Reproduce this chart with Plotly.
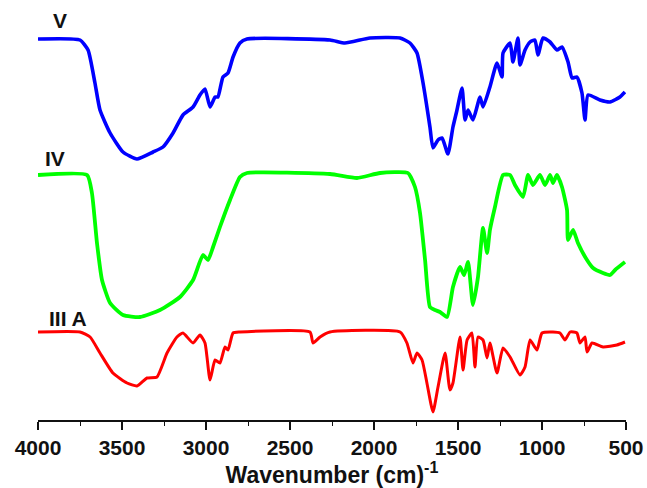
import plotly.graph_objects as go

# Spectrum V (blue)
wn_v = [4000,3750,3702,3661,3631,3571,3494,3411,3315,3256,
        3196,3137,3077,3036,3006,2976,2946,2929,2899,2869,
        2839,2798,2756,2262,2173,2024,1845,1786,1744,1708,
        1667,1649,1619,1595,1560,1530,1506,1476,1458,1440,
        1411,1369,1351,1310,1268,1238,1232,1190,1173,1143,
        1131,1101,1071,1042,1024,994,952,911,881,845,
        821,792,762,744,726,655,595,536,506]
t_v = [381,380,370,337,310,287,268,261,268,273,
       287,305,313,325,331,313,323,323,343,347,
       363,377,381,380,377,382,382,377,367,337,
       293,272,280,282,266,293,310,332,300,310,
       300,323,313,333,357,343,367,377,358,382,
       355,370,378,380,365,382,378,370,373,358,
       342,343,327,300,325,320,318,323,328]

# Spectrum IV (green)
wn_iv = [4000,3708,3679,3649,3619,3571,3494,3393,3274,3155,
         3077,3018,2988,2958,2917,2857,2798,2756,2262,2101,
         1964,1798,1756,1726,1696,1667,1637,1607,1565,1530,
         1488,1464,1440,1411,1381,1351,1327,1310,1280,1232,
         1190,1161,1113,1083,1054,1012,982,952,935,911,
         881,851,845,815,786,732,696,637,595,565,
         506]
t_iv = [245,245,227,177,140,117,105,103,110,123,
        140,165,160,173,193,220,243,247,246,242,
        247,247,233,207,160,113,110,108,103,133,
        153,145,158,115,143,192,167,190,213,245,
        245,235,223,245,235,245,235,245,237,245,
        233,210,180,190,177,160,152,147,145,150,
        158]

# Spectrum III A (red)
wn_iii = [4000,3750,3690,3631,3554,3470,3411,3351,3292,3232,
          3173,3137,3077,3036,3006,2976,2946,2917,2887,2869,
          2839,2798,2381,2363,2321,2262,1845,1804,1768,1744,
          1714,1685,1649,1619,1577,1548,1530,1488,1470,1446,
          1417,1399,1381,1351,1327,1310,1268,1232,1190,1131,
          1101,1071,1030,1000,935,893,863,833,792,774,
          744,732,702,637,554,506]
t_iii = [88,88,83,67,47,37,34,42,43,67,
         83,87,77,85,77,40,60,57,73,70,
         87,88,88,77,83,88,88,77,57,67,
         60,37,8,33,67,30,37,83,50,80,
         87,53,83,80,62,77,47,72,63,45,
         53,80,70,87,88,87,80,88,87,77,
         83,68,77,73,75,78]

labels = ["V", "IV", "III A"]
tick_vals = [4000, 3500, 3000, 2500, 2000, 1500, 1000, 500]

FONT = "Liberation Sans, Arial, sans-serif"

fig = go.Figure()
for wn, t, col, w in [(wn_v, t_v, "#0000FF", 3.6), (wn_iv, t_iv, "#00FF00", 3.8), (wn_iii, t_iii, "#FF0000", 3.0)]:
    fig.add_trace(go.Scatter(x=wn, y=t, mode="lines",
                             line=dict(color=col, width=w, shape="spline", smoothing=0.5),
                             showlegend=False, hoverinfo="skip"))

label_pos = [(3869, 400), (3899, 262), (3821, 102)]
for lab, (lx, ly) in zip(labels, label_pos):
    fig.add_annotation(x=lx, y=ly, text="<b>%s</b>" % lab, showarrow=False,
                       font=dict(family=FONT, size=21, color="#111"),
                       xanchor="center", yanchor="middle")

fig.update_layout(
    width=647, height=488,
    margin=dict(l=38, r=21, t=20, b=68),
    paper_bgcolor="white", plot_bgcolor="white",
    xaxis=dict(range=[4000, 500], tickvals=tick_vals, automargin=False,
               ticktext=["<b>%d</b>" % v for v in tick_vals],
               showline=True, linecolor="#111", linewidth=1.6,
               ticks="outside", ticklen=8, tickwidth=1.6, tickcolor="#111",
               minor=dict(dtick=250, tick0=4000, ticks="outside", ticklen=4, tickwidth=1.4, tickcolor="#111"),
               showgrid=False, zeroline=False,
               tickfont=dict(family=FONT, size=21, color="#111"),
               title=dict(text="<b>Wavenumber (cm)<sup>-1</sup></b>", standoff=4,
                          font=dict(family=FONT, size=23, color="#111"))),
    yaxis=dict(range=[0, 400], visible=False, showgrid=False, zeroline=False),
)

fig.write_html("out.html")
